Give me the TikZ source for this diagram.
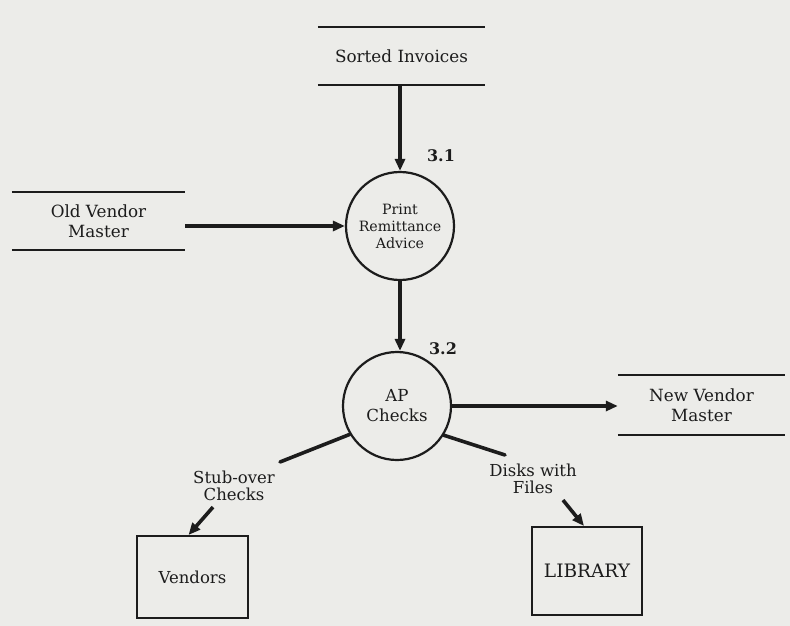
\documentclass[tikz,border=0pt]{standalone}
\usepackage{fontspec}
\setmainfont{DejaVu Serif}
\usetikzlibrary{arrows.meta}
\definecolor{paper}{RGB}{236,236,233}
\definecolor{ink}{RGB}{28,28,28}
\tikzset{
  txt/.style={text=ink, inner sep=0pt, align=center},
  store/.style={txt, minimum width=167pt, minimum height=58pt,
    font=\fontsize{16.8}{20}\selectfont},
  storeline/.style={draw=ink, line width=2.2pt},
  process/.style={txt, circle, draw=ink, line width=2.2pt, minimum size=108pt},
  entity/.style={txt, draw=ink, line width=2pt, font=\fontsize{16.5}{18}\selectfont},
  flow/.style={draw=ink, line width=3.6pt, -{Triangle[length=12pt,width=10pt]}},
  stroke/.style={draw=ink, line width=3.6pt, line cap=round},
  flowlabel/.style={txt, font=\fontsize{16.5}{17}\selectfont},
  procid/.style={txt, font=\bfseries\fontsize{16}{16}\selectfont}
}
\begin{document}
\begin{tikzpicture}[x=1pt, y=-1pt]
  \useasboundingbox (0,0) rectangle (790,626);
  \fill[paper] (0,0) rectangle (790,626);

  % data stores
  \node[store] (si) at (401.5,56) {Sorted Invoices};
  \node[store, minimum width=173pt] (ovm) at (98.5,221) {Old Vendor\\Master};
  \node[store, minimum height=60pt] (nvm) at (701.5,405) {New Vendor\\Master};
  \foreach \s in {si,ovm,nvm}
    \draw[storeline] (\s.north west) -- (\s.north east)
                     (\s.south west) -- (\s.south east);

  % processes
  \node[process, font=\fontsize{14.2}{17}\selectfont] (p1) at (400,226)
    {Print\\Remittance\\Advice};
  \node[process, font=\fontsize{16.6}{20}\selectfont] (p2) at (397,406)
    {AP\\Checks};
  \node[procid] (id1) at (441,156) {3.1};
  \node[procid] (id2) at (443,349) {3.2};

  % external entities
  \node[entity, minimum width=111pt, minimum height=82pt] (ven) at (192.5,577) {Vendors};
  \node[entity, minimum width=110pt, minimum height=88pt,
        font=\fontsize{18.5}{20}\selectfont] (lib) at (587,571) {LIBRARY};

  % flow labels
  \node[flowlabel] (stub) at (234,486) {Stub-over\\Checks};
  \node[flowlabel] (disk) at (533,479) {Disks with\\Files};

  % data flows
  \draw[flow] (si.south -| p1.north) -- (p1.north);
  \draw[flow] (ovm.east |- p1.west) -- (p1.west);
  \draw[flow] (p1.south) -- (p1.south |- p2.north);
  \draw[flow] (p2.east) -- (nvm.west |- p2.east);
  \draw[stroke] (p2.211) -- (280,462);
  \draw[flow] ([xshift=-21pt, yshift=-6pt]stub.south) -- ([xshift=-4pt]ven.north);
  \draw[stroke] (p2.328) -- (505,455);
  \draw[flow] ([xshift=30pt, yshift=-6pt]disk.south) -- ([xshift=-3pt]lib.north);
\end{tikzpicture}
\end{document}
